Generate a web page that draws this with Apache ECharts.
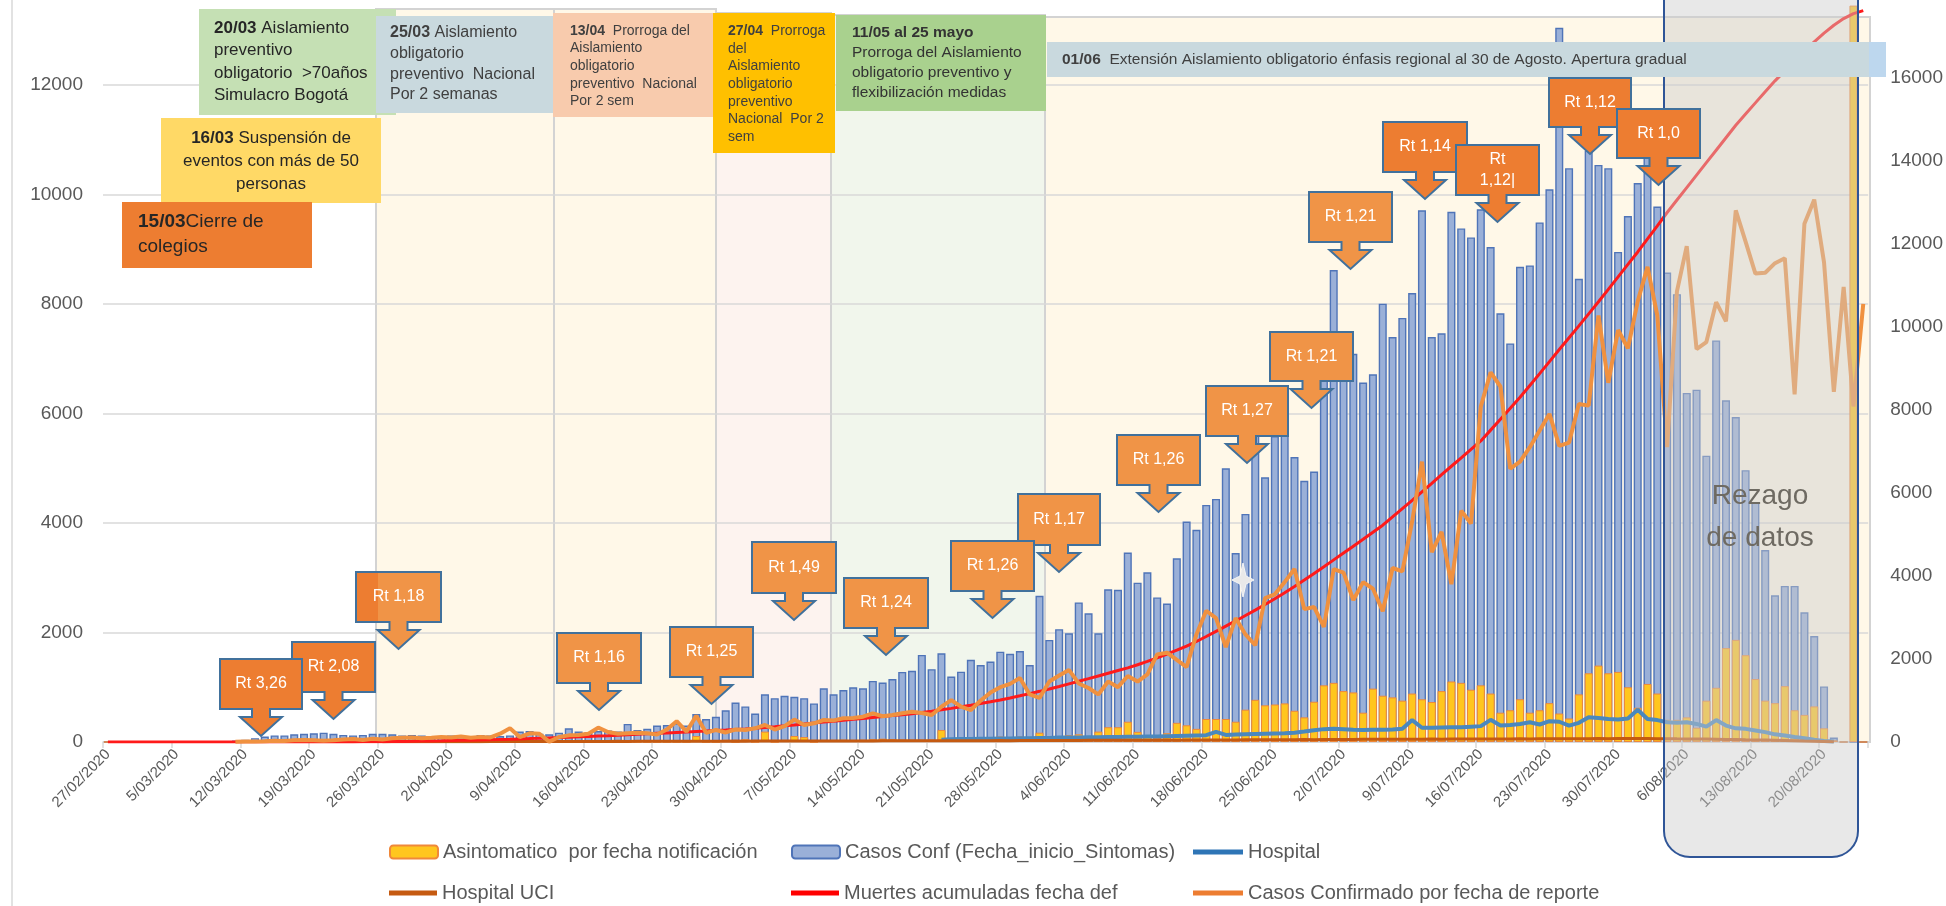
<!DOCTYPE html>
<html><head><meta charset="utf-8">
<script src="https://cdn.jsdelivr.net/npm/echarts@6/dist/echarts.min.js"></script>
<style>html,body{margin:0;padding:0;background:#fff}#c{width:1946px;height:906px}</style>
</head><body><div id="c"></div>
<script>
// ---------------- DATA ----------------
const categories = [
'27/02/2020','28/02/2020','29/02/2020',
'1/03/2020','2/03/2020','3/03/2020','4/03/2020','5/03/2020','6/03/2020','7/03/2020','8/03/2020','9/03/2020','10/03/2020',
'11/03/2020','12/03/2020','13/03/2020','14/03/2020','15/03/2020','16/03/2020','17/03/2020','18/03/2020','19/03/2020','20/03/2020',
'21/03/2020','22/03/2020','23/03/2020','24/03/2020','25/03/2020','26/03/2020','27/03/2020','28/03/2020','29/03/2020','30/03/2020','31/03/2020',
'1/04/2020','2/04/2020','3/04/2020','4/04/2020','5/04/2020','6/04/2020','7/04/2020','8/04/2020','9/04/2020','10/04/2020',
'11/04/2020','12/04/2020','13/04/2020','14/04/2020','15/04/2020','16/04/2020','17/04/2020','18/04/2020','19/04/2020','20/04/2020',
'21/04/2020','22/04/2020','23/04/2020','24/04/2020','25/04/2020','26/04/2020','27/04/2020','28/04/2020','29/04/2020','30/04/2020',
'1/05/2020','2/05/2020','3/05/2020','4/05/2020','5/05/2020','6/05/2020','7/05/2020','8/05/2020','9/05/2020','10/05/2020',
'11/05/2020','12/05/2020','13/05/2020','14/05/2020','15/05/2020','16/05/2020','17/05/2020','18/05/2020','19/05/2020','20/05/2020',
'21/05/2020','22/05/2020','23/05/2020','24/05/2020','25/05/2020','26/05/2020','27/05/2020','28/05/2020','29/05/2020','30/05/2020','31/05/2020',
'1/06/2020','2/06/2020','3/06/2020','4/06/2020','5/06/2020','6/06/2020','7/06/2020','8/06/2020','9/06/2020','10/06/2020',
'11/06/2020','12/06/2020','13/06/2020','14/06/2020','15/06/2020','16/06/2020','17/06/2020','18/06/2020','19/06/2020','20/06/2020',
'21/06/2020','22/06/2020','23/06/2020','24/06/2020','25/06/2020','26/06/2020','27/06/2020','28/06/2020','29/06/2020','30/06/2020',
'1/07/2020','2/07/2020','3/07/2020','4/07/2020','5/07/2020','6/07/2020','7/07/2020','8/07/2020','9/07/2020','10/07/2020',
'11/07/2020','12/07/2020','13/07/2020','14/07/2020','15/07/2020','16/07/2020','17/07/2020','18/07/2020','19/07/2020','20/07/2020',
'21/07/2020','22/07/2020','23/07/2020','24/07/2020','25/07/2020','26/07/2020','27/07/2020','28/07/2020','29/07/2020','30/07/2020','31/07/2020',
'1/08/2020','2/08/2020','3/08/2020','4/08/2020','5/08/2020','6/08/2020','7/08/2020','8/08/2020','9/08/2020','10/08/2020',
'11/08/2020','12/08/2020','13/08/2020','14/08/2020','15/08/2020','16/08/2020','17/08/2020','18/08/2020','19/08/2020','20/08/2020',
'21/08/2020','22/08/2020','23/08/2020','24/08/2020'
];

const tickLabels = ['27/02/2020','5/03/2020','12/03/2020','19/03/2020','26/03/2020','2/04/2020','9/04/2020','16/04/2020',
'23/04/2020','30/04/2020','7/05/2020','14/05/2020','21/05/2020','28/05/2020','4/06/2020','11/06/2020','18/06/2020',
'25/06/2020','2/07/2020','9/07/2020','16/07/2020','23/07/2020','30/07/2020','6/08/2020','13/08/2020','20/08/2020'];

// Casos Conf (Fecha_inicio_Sintomas) - left axis
const casosConf = [
0,0,0,0,0,0,0,0,0,0,
0,0,15,25,40,70,100,120,120,140,
150,160,170,150,130,120,130,150,150,140,
120,130,120,110,110,120,110,100,130,120,
110,120,190,200,150,140,170,250,190,180,
200,210,190,330,220,240,300,310,340,300,
510,420,460,580,720,650,520,870,800,845,
825,800,705,980,870,950,1000,980,1115,1085,
1150,1280,1300,1590,1330,1620,1195,1285,1500,1405,
1470,1650,1610,1660,1405,2670,1865,2060,1985,2550,
2350,1985,2790,2780,3460,2910,3100,2640,2530,3355,
4025,3875,4330,4440,5000,3450,4165,5800,4835,5585,
5800,5205,4770,4940,7000,8620,7090,7090,6565,6715,
8005,7395,7745,8200,9710,7395,7465,9685,9380,9215,
9730,9040,7830,7280,8680,8705,9490,10095,13045,10480,
8460,10800,10540,10480,8950,9605,10210,10900,9780,8575,
8180,6375,6435,5230,7335,6240,5935,4965,4380,3505,
2680,2850,2850,2370,1935,1015,80,0,0,0
];

// Asintomatico por fecha notificación - left axis
const asintomatico = [
0,0,0,0,0,0,0,0,0,0,
0,0,0,0,0,0,0,0,0,0,
0,0,0,0,0,0,0,0,0,0,
0,0,0,0,0,0,0,0,0,0,
0,0,0,0,0,0,0,0,0,0,
0,0,0,0,0,0,0,0,0,0,
110,0,0,40,0,50,0,190,0,20,
110,90,0,30,30,40,30,40,50,60,
50,40,30,30,40,220,60,50,90,80,
90,100,80,100,60,170,40,60,125,140,
100,190,270,270,370,185,100,70,160,350,
305,240,420,420,420,370,590,770,670,685,
705,570,450,735,1035,1080,930,905,535,975,
845,815,755,885,780,730,930,1105,1080,955,
1035,885,535,580,780,535,580,710,520,430,
870,1255,1395,1255,1280,1000,625,1060,885,405,
405,450,260,755,990,1715,1865,1585,1150,755,
710,1020,580,495,650,250,30,0,13450,0
];

// Hospital - left axis
const hospital = [
null,null,null,null,null,null,null,null,null,null,
null,null,null,null,null,null,null,null,null,null,
null,null,null,null,null,null,null,null,null,null,
null,null,null,null,null,null,null,null,null,null,
null,null,null,null,null,null,null,null,null,null,
null,null,null,null,null,null,null,null,null,null,
null,null,null,null,null,null,null,null,null,null,
null,null,null,null,null,null,null,null,null,null,
null,null,null,null,null,40,50,55,55,60,
60,65,65,70,70,75,75,80,80,80,
85,85,90,90,95,95,100,100,105,110,
115,120,125,185,130,135,140,145,150,155,
160,170,190,215,235,240,235,225,220,225,
225,230,240,400,260,260,265,270,270,280,
290,405,300,310,330,360,320,380,370,300,
350,450,440,420,410,430,590,420,400,360,
350,360,330,280,400,300,250,240,210,180,
140,120,90,70,40,20,10,null,null,null
];

// Hospital UCI - left axis
const hospitalUCI = [
null,null,null,null,null,null,null,null,null,null,
null,null,null,null,null,null,null,null,null,null,
null,null,null,null,null,null,null,null,3,3,
4,4,5,5,6,5,6,7,6,7,
8,7,8,9,8,9,10,9,10,11,
10,11,12,11,12,13,12,13,14,13,
14,15,14,15,16,15,16,17,16,17,
18,17,18,19,18,19,20,19,20,21,
21,22,21,22,23,23,24,23,24,25,
25,26,25,27,26,27,28,28,29,28,
30,31,30,32,33,32,34,33,35,34,
36,35,37,36,38,37,39,40,39,41,
41,42,44,43,45,46,45,47,48,49,
50,49,51,52,51,53,52,54,53,55,
55,56,55,57,58,57,59,58,60,59,
61,60,62,61,63,62,63,62,61,60,
58,57,54,53,50,47,45,41,38,35,
31,27,23,18,14,10,6,null,null,null
];

// Muertes acumuladas fecha def - right axis
const muertes = [
0,0,0,0,0,0,0,0,0,0,
0,0,0,0,0,0,0,0,0,0,
0,0,0,1,2,3,5,7,9,12,
15,18,22,26,30,35,40,45,50,56,
62,68,75,82,90,98,106,115,124,133,
143,153,164,175,186,197,208,219,230,241,
252,263,275,287,300,316,333,351,370,390,
411,433,456,480,502,524,546,568,590,612,
635,657,680,710,742,775,810,847,885,925,
967,1010,1060,1112,1165,1220,1278,1338,1400,1462,
1525,1590,1655,1720,1785,1860,1940,2025,2115,2210,
2310,2420,2540,2665,2790,2915,3045,3175,3310,3450,
3595,3745,3900,4060,4220,4385,4550,4715,4880,5050,
5220,5420,5620,5820,6025,6230,6440,6640,6840,7045,
7250,7510,7770,8035,8300,8585,8870,9160,9450,9735,
10020,10310,10600,10900,11200,11500,11800,12115,12430,12750,
13050,13350,13650,13950,14250,14550,14850,15120,15390,15660,
15920,16160,16400,16640,16860,17070,17260,17420,17540,17610
];

// Casos Confirmado por fecha de reporte - right axis
const casosReporte = [
null,null,null,null,null,null,null,null,null,null,
null,null,null,5,13,11,20,30,25,40,
50,45,30,40,60,70,50,80,60,90,
100,110,90,100,120,110,130,100,120,110,
200,330,120,210,200,10,120,160,170,200,
345,240,200,210,220,210,180,300,500,250,
630,220,290,230,300,290,330,410,300,380,
540,410,450,530,520,570,580,610,690,620,
650,690,730,700,650,850,1010,850,770,1000,
1190,1320,1400,1540,1145,1060,1455,1600,1735,1410,
1300,1145,1455,1320,1590,1455,1630,2110,2150,1975,
1805,2590,3160,2985,2285,2985,2590,2330,3465,3555,
3850,4165,3200,3250,2770,4165,4080,3420,3850,3690,
3150,4190,4110,5310,6750,4570,5060,3800,5570,5260,
8080,8900,8560,6580,6750,7100,7500,7900,7130,7210,
8140,8100,10270,8650,9920,9480,10610,11440,10270,7100,
10850,11940,9460,9630,10590,10130,12800,12050,11280,11300,
11530,11650,8370,12480,13060,11550,8430,10960,8080,10550
];

const rtTexts = ['Rt 2,08','Rt 3,26','Rt 1,18','Rt 1,16','Rt 1,25','Rt 1,49','Rt 1,24','Rt 1,17','Rt 1,26','Rt 1,26',
                 'Rt 1,27','Rt 1,21','Rt 1,21','Rt 1,14','Rt\n1,12|','Rt 1,12','Rt 1,0'];

// ---------------- LAYOUT / STYLE ----------------
const FONT = "'Liberation Sans', Arial, sans-serif";
const N1 = 'Asintomatico  por fecha notificación';
const N2 = 'Casos Conf (Fecha_inicio_Sintomas)';
const N3 = 'Hospital';
const N4 = 'Hospital UCI';
const N5 = 'Muertes acumuladas fecha def';
const N6 = 'Casos Confirmado por fecha de reporte';

const DARK = '#ED7D31', LIGHT = '#F09447';
const calloutGeom = [
  [292,642,83,50,DARK],[220,659,82,50,DARK],[356,572,85,50,LIGHT],[557,633,84,50,LIGHT],
  [670,627,83,50,LIGHT],[752,542,84,51,LIGHT],[844,578,84,50,LIGHT],[1018,494,82,51,LIGHT],
  [951,541,83,50,LIGHT],[1117,435,83,50,LIGHT],[1206,386,82,50,LIGHT],[1270,332,83,49,LIGHT],
  [1309,192,83,50,LIGHT],[1383,122,84,50,DARK],[1456,145,83,50,DARK],[1549,78,82,49,DARK],[1617,109,83,49,DARK]
];

const els = [];
els.push({type:'line', silent:true, z:0, shape:{x1:12,y1:0,x2:12,y2:906}, style:{stroke:'#D9D9D9', lineWidth:1.5}});
[[376,9,554,'#FFF8E8'],[554,9,716,'#FFF8E8'],[716,13,831,'#FDF3EF'],[831,15,1045,'#F1F6EC'],[1045,17,1870,'#FFF8E8']]
.forEach(b => els.push({type:'rect', silent:true, z:0, shape:{x:b[0], y:b[1], width:b[2]-b[0], height:742-b[1]},
  style:{fill:b[3], stroke:'#D3D3D3', lineWidth:2}}));
els.push({type:'rect', silent:true, z:1.5, shape:{x:100, y:0, width:1775, height:2}, style:{fill:'#FFFFFF'}});
els.push({type:'rect', silent:true, z:8, shape:{x:1664, y:-40, width:194, height:897, r:26},
  style:{fill:'rgba(205,205,205,0.45)', stroke:'#2F5597', lineWidth:2}});
els.push({type:'polygon', silent:true, z:9, x:1243, y:580,
  shape:{points:[[0,-17],[3,-4],[11,0],[3,4],[0,17],[-3,4],[-11,0],[-3,-4]]},
  style:{fill:'#E9E9E9', stroke:'#F6F6F6', lineWidth:1}});

function txt(x, y, text, size, lh, opts) {
  return {type:'text', silent:true, z:16, x:x, y:y,
    style:Object.assign({text:text, fontSize:size, fontFamily:FONT, lineHeight:lh, fill:'#262626',
      align:'left', verticalAlign:'top', textAlign:'left', textVerticalAlign:'top',
      rich:{b:{fontWeight:'bold', fontSize:size, fontFamily:FONT, lineHeight:lh}}}, opts||{})};
}
function rect(x, y, w, h, fill, z) {
  return {type:'rect', silent:true, z:z, shape:{x:x, y:y, width:w, height:h}, style:{fill:fill}};
}
els.push(rect(199,9,197,106,'#C5E0B4',14));
els.push(txt(214,16.7,'{b|20/03} Aislamiento\npreventivo\nobligatorio  >70años\nSimulacro Bogotá',17,22.6));
els.push(rect(161,118,220,85,'#FFD966',14.2));
els.push(txt(271,126.5,'{b|16/03} Suspensión de\neventos con más de 50\npersonas',17,23,{align:'center',textAlign:'center'}));
els.push(rect(122,202,190,66,'#ED7D31',14.4));
els.push(txt(138,209.5,'{b|15/03}Cierre de\ncolegios',19,25));
els.push(rect(376,16,178,97,'#C9D9DE',14.6));
els.push(txt(390,22.6,'{b|25/03} Aislamiento\nobligatorio\npreventivo  Nacional\nPor 2 semanas',16,20.7,{fill:'#404040'}));
els.push(rect(553,13,160,104,'#F8CBAD',14.6));
els.push(txt(570,22.2,'{b|13/04}  Prorroga del\nAislamiento\nobligatorio\npreventivo  Nacional\nPor 2 sem',14,17.6,{fill:'#404040'}));
els.push(rect(713,13,122,140,'#FFC000',14.6));
els.push(txt(728,22.1,'{b|27/04}  Prorroga\ndel\nAislamiento\nobligatorio\npreventivo\nNacional  Por 2\nsem',14,17.7,{fill:'#404040'}));
els.push(rect(836,15,210,96,'#A9D18E',14.6));
els.push(txt(852,23,'{b|11/05 al 25 mayo}\nProrroga del Aislamiento\nobligatorio preventivo y\nflexibilización medidas',15.5,20,{fill:'#333333'}));
els.push(rect(1047,42,823,35,'#C9D9DE',14.6));
els.push(rect(1869,42,17,35,'#BDD7EE',14.6));
els.push(txt(1062,50,'{b|01/06}  Extensión Aislamiento obligatorio énfasis regional al 30 de Agosto. Apertura gradual',15.5,20,{fill:'#404040'}));

calloutGeom.forEach((g, i) => {
  const x = g[0], y = g[1], w = g[2], h = g[3], cx = x + w / 2, b = y + h;
  const z = 20 + i * 2;
  els.push({type:'polygon', silent:true, z:z,
    shape:{points:[[x,y],[x+w,y],[x+w,b],[cx+9,b],[cx+9,b+8],[cx+21,b+8],[cx,b+27],[cx-21,b+8],[cx-9,b+8],[cx-9,b],[x,b]]},
    style:{fill:g[4], stroke:'#41719C', lineWidth:2}});
  if (rtTexts[i] === 'Rt 1,18') {
    els.push({type:'rect', silent:true, z:z + 0.5, shape:{x:x+1, y:y+1, width:21, height:h-2}, style:{fill:DARK}});
  }
  els.push({type:'text', silent:true, z:z + 1, x:cx, y:y + h / 2,
    style:{text:rtTexts[i], fill:'#FFFFFF', fontSize:16, fontFamily:FONT, lineHeight:21,
      align:'center', verticalAlign:'middle', textAlign:'center', textVerticalAlign:'middle'}});
});
els.push({type:'text', silent:true, z:60, x:1760, y:517,
  style:{text:'Rezago\nde datos', fill:'#6E6A62', fontSize:28, fontFamily:FONT, lineHeight:42,
    align:'center', verticalAlign:'middle', textAlign:'center', textVerticalAlign:'middle'}});

function lg(name, left, top, h, w, icon) {
  const d = icon ? {name:name, icon:icon} : {name:name};
  return {data:[d], left:left, top:top, padding:0, itemWidth:w, itemHeight:h, selectedMode:false,
    textStyle:{fontSize:20, color:'#595959', fontFamily:FONT}};
}

const option = {
  animation:false,
  backgroundColor:'#FFFFFF',
  textStyle:{fontFamily:FONT},
  grid:{left:103, right:76, top:0, bottom:164},
  xAxis:[
    {type:'category', data:categories, boundaryGap:true, z:1,
      axisLine:{lineStyle:{color:'#D9D9D9', width:1.5}}, axisTick:{show:false},
      axisLabel:{show:true, interval:6, rotate:45, fontSize:15, color:'#595959', margin:10,
        formatter:function(v, idx){ return (idx % 7 === 0 && idx / 7 < tickLabels.length) ? tickLabels[idx / 7] : ''; }}},
    {type:'value', min:0, max:180, interval:7, position:'bottom', z:1,
      axisLine:{show:false}, splitLine:{show:false},
      axisTick:{show:true, length:6, lineStyle:{color:'#D9D9D9', width:1.5}},
      axisLabel:{show:false}}
  ],
  yAxis:[
    {type:'value', min:0, max:13552, interval:2000, z:1,
      axisLine:{show:false}, axisTick:{show:false},
      splitLine:{lineStyle:{color:'#D9D9D9', width:1.5}},
      axisLabel:{fontSize:19, color:'#595959', margin:20, formatter:function(v){ return v % 2000 ? '' : String(v); }}},
    {type:'value', min:0, max:17867, interval:2000, position:'right', z:1,
      axisLine:{show:false}, axisTick:{show:false}, splitLine:{show:false},
      axisLabel:{fontSize:19, color:'#595959', margin:22, formatter:function(v){ return v % 2000 ? '' : String(v); }}}
  ],
  legend:[lg(N1,389,842,13,48), lg(N2,791,842,13,48), lg(N3,1193,842,5,50,'rect'),
          lg(N4,389,883,5,48,'rect'), lg(N5,791,883,5,48,'rect'), lg(N6,1193,883,5,50,'rect')],
  series:[
    {name:N2, type:'bar', xAxisIndex:0, yAxisIndex:0, data:casosConf, barWidth:'82%', barGap:'-100%', z:2,
      itemStyle:{color:'#9AB0D8', borderColor:'#4F74B8', borderWidth:1.4}},
    {name:N1, type:'bar', xAxisIndex:0, yAxisIndex:0, data:asintomatico, barWidth:'82%', barGap:'-100%', z:2,
      itemStyle:{color:'#FFC61E', borderColor:'#F0883A', borderWidth:1}},
    {name:N3, type:'line', xAxisIndex:0, yAxisIndex:0, data:hospital, showSymbol:false, symbol:'none', z:3,
      itemStyle:{color:'#2E75B6'}, lineStyle:{color:'#4A88BE', width:4}},
    {name:N4, type:'line', xAxisIndex:0, yAxisIndex:0, data:hospitalUCI, showSymbol:false, symbol:'none', z:3,
      itemStyle:{color:'#C55A11'}, lineStyle:{color:'#C55A11', width:3}},
    {name:N5, type:'line', xAxisIndex:0, yAxisIndex:1, data:muertes, showSymbol:false, symbol:'none', z:3,
      itemStyle:{color:'#FF0000'}, lineStyle:{color:'#FF1A1A', width:3}},
    {name:N6, type:'line', xAxisIndex:0, yAxisIndex:1, data:casosReporte, showSymbol:false, symbol:'none', z:3,
      itemStyle:{color:'#ED7D31'}, lineStyle:{color:'#F0913F', width:4}}
  ],
  graphic:{elements:els}
};
const chart = echarts.init(document.getElementById('c'), null, {renderer:'canvas'});
chart.setOption(option);
</script>
</body></html>
